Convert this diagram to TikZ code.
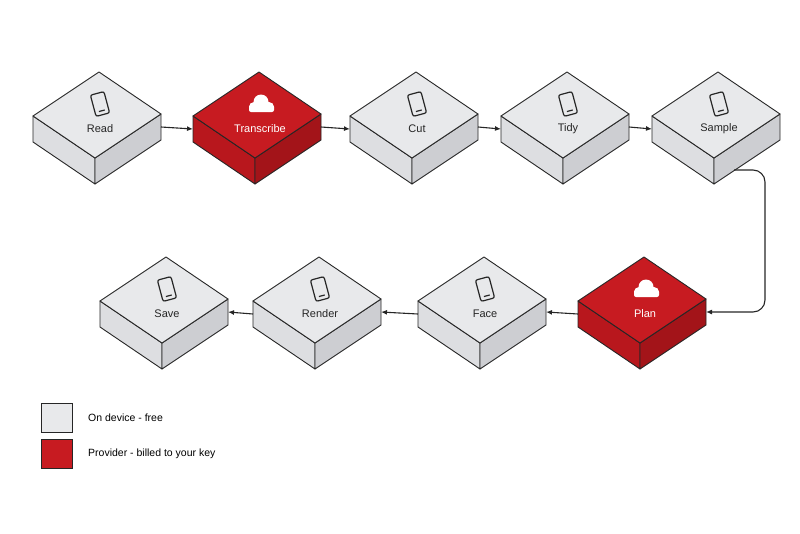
\documentclass[tikz,border=0pt]{standalone}
\usepackage{fontspec}
\setmainfont{Liberation Sans}
\usetikzlibrary{arrows.meta}
\definecolor{gT}{HTML}{E8E9EB}\definecolor{gL}{HTML}{DDDEE1}\definecolor{gR}{HTML}{CDCED2}
\definecolor{rT}{HTML}{C71B21}\definecolor{rL}{HTML}{B8171D}\definecolor{rR}{HTML}{A31419}
\tikzset{
  face/.style={draw=black!85,line width=0.9pt,line join=round},
  lbl/.style={font=\fontsize{11}{13}\selectfont,inner sep=1pt},
  conn/.style={draw=black!85,line width=1.1pt,-{Latex[length=6pt,width=5pt]}},
}
\newcommand\phoneicon{%
 \begin{scope}[rotate=15,line width=1.2pt,draw=black!85]
  \draw[rounded corners=2pt] (-7,-11) rectangle (7,11);
  \draw (-3,7) -- (3,7);
 \end{scope}}
\newcommand\cloudicon{%
 \fill[white] (-6,3) circle (5) (1,-2) circle (7.5) (9,3) circle (5);
 \fill[white,rounded corners=2pt] (-11,1) rectangle (14,8);}
\newcommand\blk[6]{%
 \begin{scope}[shift={(#2,#3)}]
  \draw[face,fill=#4L] (-62,-42) -- (0,0) -- (0,26) -- (-62,-16) -- cycle;
  \draw[face,fill=#4R] (0,0) -- (66,-44) -- (66,-18) -- (0,26) -- cycle;
  \draw[face,fill=#4T] (-62,-42) -- (4,-86) -- (66,-44) -- (0,0) -- cycle;
  \begin{scope}[shift={(5,-54)}]#6\end{scope}
  \node[lbl,text=#5] (#1) at (5,-29) {#1};
  \coordinate (#1-L) at (-62,-29);
  \coordinate (#1-R) at (66,-31);
  \coordinate (#1-B) at (20,12);
 \end{scope}}
\begin{document}
\begin{tikzpicture}[x=1pt,y=-1pt]
\useasboundingbox (0,0) rectangle (800,533);
\blk{Read}{95}{158}{g}{black!85}{\phoneicon}
\blk{Transcribe}{255}{158}{r}{white}{\cloudicon}
\blk{Cut}{412}{158}{g}{black!85}{\phoneicon}
\blk{Tidy}{563}{158}{g}{black!85}{\phoneicon}
\blk{Sample}{714}{158}{g}{black!85}{\phoneicon}
\blk{Save}{162}{343}{g}{black!85}{\phoneicon}
\blk{Render}{315}{343}{g}{black!85}{\phoneicon}
\blk{Face}{480}{343}{g}{black!85}{\phoneicon}
\blk{Plan}{640}{343}{r}{white}{\cloudicon}
\draw[conn] (Read-R) -- (Transcribe-L);
\draw[conn] (Transcribe-R) -- (Cut-L);
\draw[conn] (Cut-R) -- (Tidy-L);
\draw[conn] (Tidy-R) -- (Sample-L);
\coordinate (c1) at (765,170);
\coordinate (c2) at (765,312);
\draw[conn,rounded corners=12pt] (Sample-B) -- (c1) -- (c2) -- (Plan-R);
\draw[conn] (Plan-L) -- (Face-R);
\draw[conn] (Face-L) -- (Render-R);
\draw[conn] (Render-L) -- (Save-R);
\node[draw=black!85,fill=gT,line width=0.9pt,minimum width=31pt,minimum height=29pt,inner sep=0] (lg1) at (57,418) {};
\node[draw=black!85,fill=rT,line width=0.9pt,minimum width=31pt,minimum height=29pt,inner sep=0] (lg2) at (57,454) {};
\node[lbl,anchor=west,font=\fontsize{10.5}{12}\selectfont] (t1) at (87,418) {On device - free};
\node[lbl,anchor=west,font=\fontsize{10.5}{12}\selectfont] (t2) at (87,454) {Provider - billed to your key};
\end{tikzpicture}
\end{document}
